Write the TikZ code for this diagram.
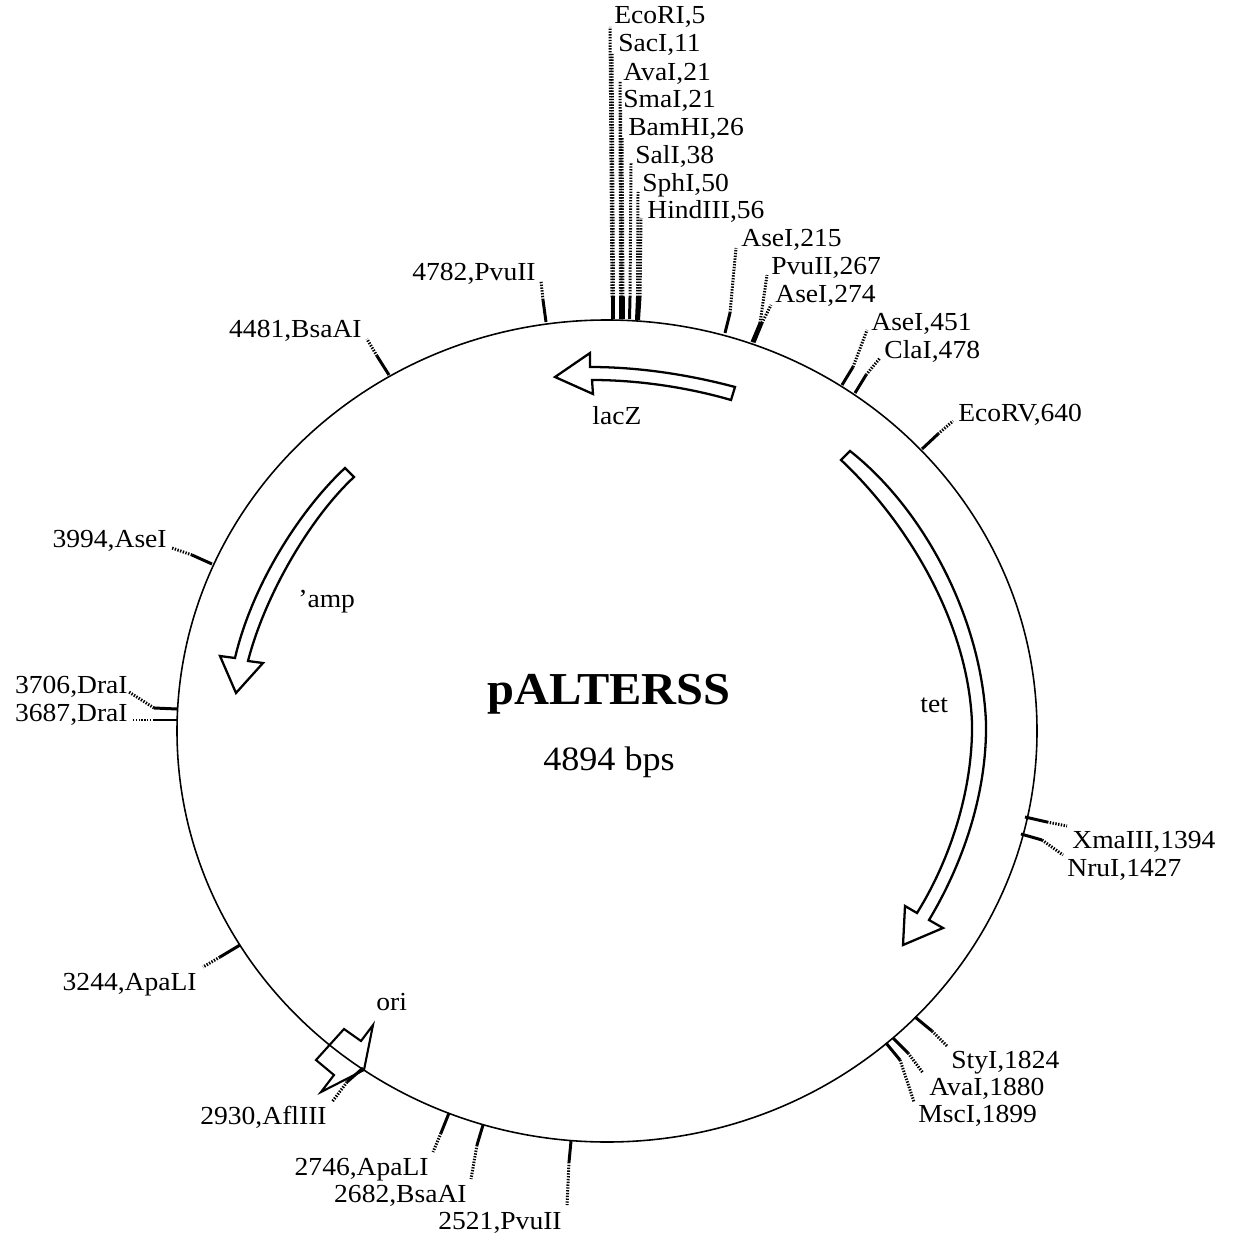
\documentclass[tikz,border=0pt]{standalone}
\usepackage{fontspec}
\setmainfont[FakeStretch=1.06]{Liberation Serif}
\usetikzlibrary{positioning}

\begin{document}
\begin{tikzpicture}[
        x=0.02cm, y=-0.02cm,
        site/.style={anchor=base west, inner sep=0pt, font=\fontsize{14.8}{16}\selectfont},
        leftsite/.style={anchor=base east, inner sep=0pt, font=\fontsize{14.8}{16}\selectfont},
        gene/.style={anchor=base west, inner sep=0pt, font=\fontsize{14.8}{16}\selectfont},
        backbone/.style={line width=0.9pt},
        stub/.style={line width=1.7pt},
        lead/.style={line width=1.7pt, dash pattern=on 0.8pt off 0.8pt},
        orf/.style={line width=1.3pt, line join=miter, fill=white}
    ]
        \useasboundingbox (0,0) rectangle (1239,1239);
        \draw[backbone] (607,731) ellipse [x radius=430, y radius=411];

        \draw[orf] (555,377) -- (590,353) -- (590,367) .. controls (640,367) and (690,375) .. (735,387) -- (731,400) .. controls (690,388) and (640,380) .. (592,380) -- (593,394) -- cycle;
        \draw[orf] (345,468) .. controls (300,510) and (252,585) .. (235,658) -- (220,656) -- (236,693) -- (263,663) -- (248,661) .. controls (265,595) and (310,518) .. (354,477) -- cycle;
        \draw[orf] (841,460) .. controls (905,520) and (968,620) .. (972,723) .. controls (973,790) and (950,860) .. (917,913) -- (905,906) -- (903,945) -- (943,928) -- (929,920) .. controls (962,865) and (987,795) .. (986,723) .. controls (982,620) and (925,510) .. (850,451) -- cycle;
        \draw[line width=1.2pt, line join=miter] (316,1060) -- (334,1075) -- (321,1092) -- (364,1070) -- (373,1025) -- (361,1041) -- (344,1029) -- cycle;

        \node[gene] (lacz) at (592,425) {lacZ};
        \node[gene] (amp) at (298,607) {'amp};
        \node[gene] (tet) at (920,712) {tet};
        \node[gene] (ori) at (376,1010) {ori};
        \node[inner sep=0pt, font=\fontsize{26}{28}\selectfont\bfseries] (plasmid) at (609,694) {pALTERSS};
        \node[inner sep=0pt, font=\fontsize{19.4}{22}\selectfont, below=0.65cm of plasmid] (size) {4894 bps};

        \node[site] (ecori) at (614,24) {EcoRI,5};
        \coordinate (ecoriA) at (612,319); \coordinate (ecoriB) at (612,297); \coordinate (ecoriC) at (610,27);
        \draw[stub] (ecoriA) -- (ecoriB); \draw[lead] (ecoriB) -- (ecoriC);
        \node[site] (saci) at (618,52) {SacI,11};
        \coordinate (saciA) at (613.5,319); \coordinate (saciB) at (613.5,297); \coordinate (saciC) at (612,53);
        \draw[stub] (saciA) -- (saciB); \draw[lead] (saciB) -- (saciC);
        \node[site] (avai) at (623,81) {AvaI,21};
        \coordinate (avaiA) at (620.5,319); \coordinate (avaiB) at (620.5,297); \coordinate (avaiC) at (620,82);
        \draw[stub] (avaiA) -- (avaiB); \draw[lead] (avaiB) -- (avaiC);
        \node[site] (smai) at (623,108) {SmaI,21};
        \coordinate (smaiA) at (621.5,319); \coordinate (smaiB) at (621.5,297); \coordinate (smaiC) at (620.5,110);
        \draw[stub] (smaiA) -- (smaiB); \draw[lead] (smaiB) -- (smaiC);
        \node[site] (bamhi) at (628,136) {BamHI,26};
        \coordinate (bamhiA) at (623,319); \coordinate (bamhiB) at (623,297); \coordinate (bamhiC) at (622,137);
        \draw[stub] (bamhiA) -- (bamhiB); \draw[lead] (bamhiB) -- (bamhiC);
        \node[site] (sali) at (635,164) {SalI,38};
        \coordinate (saliA) at (629.5,319); \coordinate (saliB) at (630,297); \coordinate (saliC) at (631,163);
        \draw[stub] (saliA) -- (saliB); \draw[lead] (saliB) -- (saliC);
        \node[site] (sphi) at (642,192) {SphI,50};
        \coordinate (sphiA) at (636.5,320); \coordinate (sphiB) at (637.5,297); \coordinate (sphiC) at (638,192);
        \draw[stub] (sphiA) -- (sphiB); \draw[lead] (sphiB) -- (sphiC);
        \node[site] (hindiii) at (647,219) {HindIII,56};
        \coordinate (hindiiiA) at (638.5,320); \coordinate (hindiiiB) at (640,297); \coordinate (hindiiiC) at (641,218);
        \draw[stub] (hindiiiA) -- (hindiiiB); \draw[lead] (hindiiiB) -- (hindiiiC);

        \node[site] (asea) at (741,247) {AseI,215};
        \coordinate (aseaA) at (725,333); \coordinate (aseaB) at (730,313); \coordinate (aseaC) at (736,248);
        \draw[stub] (aseaA) -- (aseaB); \draw[lead] (aseaB) -- (aseaC);
        \node[site] (pvua) at (771,275) {PvuII,267};
        \coordinate (pvuaA) at (752,342); \coordinate (pvuaB) at (760,323); \coordinate (pvuaC) at (767,275);
        \draw[stub] (pvuaA) -- (pvuaB); \draw[lead] (pvuaB) -- (pvuaC);
        \node[site] (aseb) at (775,303) {AseI,274};
        \coordinate (asebA) at (754,342.5); \coordinate (asebB) at (762,323); \coordinate (asebC) at (771,305);
        \draw[stub] (asebA) -- (asebB); \draw[lead] (asebB) -- (asebC);
        \node[site] (asec) at (871,331) {AseI,451};
        \coordinate (asecA) at (842,385); \coordinate (asecB) at (853,367); \coordinate (asecC) at (867,330);
        \draw[stub] (asecA) -- (asecB); \draw[lead] (asecB) -- (asecC);
        \node[site] (clai) at (884,359) {ClaI,478};
        \coordinate (claiA) at (855,393); \coordinate (claiB) at (866,375); \coordinate (claiC) at (880,358);
        \draw[stub] (claiA) -- (claiB); \draw[lead] (claiB) -- (claiC);
        \node[site] (ecorv) at (958,421) {EcoRV,640};
        \coordinate (ecorvA) at (922,449); \coordinate (ecorvB) at (938,434); \coordinate (ecorvC) at (953,421);
        \draw[stub] (ecorvA) -- (ecorvB); \draw[lead] (ecorvB) -- (ecorvC);

        \node[site] (xmaiii) at (1072,848) {XmaIII,1394};
        \coordinate (xmaiiiA) at (1025,817); \coordinate (xmaiiiB) at (1047,822); \coordinate (xmaiiiC) at (1067,826);
        \draw[stub] (xmaiiiA) -- (xmaiiiB); \draw[lead] (xmaiiiB) -- (xmaiiiC);
        \node[site] (nrui) at (1067,876) {NruI,1427};
        \coordinate (nruiA) at (1021,834); \coordinate (nruiB) at (1042,840); \coordinate (nruiC) at (1063,855);
        \draw[stub] (nruiA) -- (nruiB); \draw[lead] (nruiB) -- (nruiC);
        \node[site] (styi) at (951,1068) {StyI,1824};
        \coordinate (styiA) at (915,1017); \coordinate (styiB) at (932,1031); \coordinate (styiC) at (947,1046);
        \draw[stub] (styiA) -- (styiB); \draw[lead] (styiB) -- (styiC);
        \node[site] (avab) at (929,1095) {AvaI,1880};
        \coordinate (avabA) at (893,1038); \coordinate (avabB) at (908,1053); \coordinate (avabC) at (923,1073);
        \draw[stub] (avabA) -- (avabB); \draw[lead] (avabB) -- (avabC);
        \node[site] (msci) at (918,1122) {MscI,1899};
        \coordinate (msciA) at (886,1043); \coordinate (msciB) at (900,1060); \coordinate (msciC) at (914,1102);
        \draw[stub] (msciA) -- (msciB); \draw[lead] (msciB) -- (msciC);

        \node[leftsite] (pvub) at (562,1229) {2521,PvuII};
        \coordinate (pvubA) at (571,1141); \coordinate (pvubB) at (569,1162); \coordinate (pvubC) at (567,1205);
        \draw[stub] (pvubA) -- (pvubB); \draw[lead] (pvubB) -- (pvubC);
        \node[leftsite] (bsaa) at (467,1202) {2682,BsaAI};
        \coordinate (bsaaA) at (483,1125); \coordinate (bsaaB) at (477,1145); \coordinate (bsaaC) at (471,1179);
        \draw[stub] (bsaaA) -- (bsaaB); \draw[lead] (bsaaB) -- (bsaaC);
        \node[leftsite] (apaa) at (429,1175) {2746,ApaLI};
        \coordinate (apaaA) at (449,1113); \coordinate (apaaB) at (441,1133); \coordinate (apaaC) at (433,1152);
        \draw[stub] (apaaA) -- (apaaB); \draw[lead] (apaaB) -- (apaaC);
        \node[leftsite] (afliii) at (327,1124) {2930,AflIII};
        \coordinate (afliiiA) at (363,1068); \coordinate (afliiiB) at (347,1082); \coordinate (afliiiC) at (332,1102);
        \draw[stub] (afliiiA) -- (afliiiB); \draw[lead] (afliiiB) -- (afliiiC);
        \node[leftsite] (apab) at (197,990) {3244,ApaLI};
        \coordinate (apabA) at (240,945); \coordinate (apabB) at (220,957); \coordinate (apabC) at (203,967);
        \draw[stub] (apabA) -- (apabB); \draw[lead] (apabB) -- (apabC);
        \node[leftsite] (drab) at (128,721) {3687,DraI};
        \coordinate (drabA) at (177,720); \coordinate (drabB) at (154,720); \coordinate (drabC) at (133,720);
        \draw[stub] (drabA) -- (drabB); \draw[lead] (drabB) -- (drabC);
        \node[leftsite] (draa) at (128,693) {3706,DraI};
        \coordinate (draaA) at (177,709); \coordinate (draaB) at (154,708); \coordinate (draaC) at (129,692);
        \draw[stub] (draaA) -- (draaB); \draw[lead] (draaB) -- (draaC);
        \node[leftsite] (ased) at (167,547) {3994,AseI};
        \coordinate (asedA) at (212,564); \coordinate (asedB) at (192,555); \coordinate (asedC) at (172,548);
        \draw[stub] (asedA) -- (asedB); \draw[lead] (asedB) -- (asedC);
        \node[leftsite] (bsab) at (362,338) {4481,BsaAI};
        \coordinate (bsabA) at (389,375); \coordinate (bsabB) at (377,356); \coordinate (bsabC) at (367,339);
        \draw[stub] (bsabA) -- (bsabB); \draw[lead] (bsabB) -- (bsabC);
        \node[leftsite] (pvuc) at (536,281) {4782,PvuII};
        \coordinate (pvucA) at (546,322); \coordinate (pvucB) at (543,300); \coordinate (pvucC) at (541,281);
        \draw[stub] (pvucA) -- (pvucB); \draw[lead] (pvucB) -- (pvucC);
    \end{tikzpicture}
\end{document}
